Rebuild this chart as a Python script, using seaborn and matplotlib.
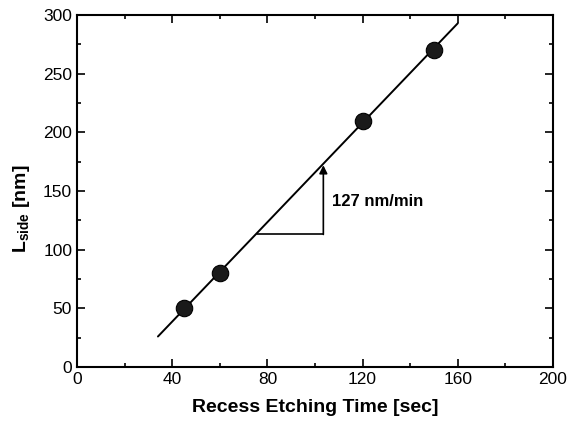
import matplotlib
matplotlib.use("Agg")
import matplotlib.pyplot as plt
import seaborn as sns
import pandas as pd
from matplotlib.ticker import MultipleLocator

# Data
time_sec = [45, 60, 120, 150]
l_side_nm = [50, 80, 210, 270]
fit_x = [34, 160]
fit_y = [26, 293]
tri_x = [75.5, 103.5, 103.5]
tri_y = [113, 113, 172]
rate_label = "127 nm/min"

sns.set_theme(style="ticks")
plt.rcParams['font.family'] = ['Liberation Sans', 'DejaVu Sans']
plt.rcParams['mathtext.fontset'] = 'custom'
plt.rcParams['mathtext.rm'] = 'Liberation Sans'
plt.rcParams['mathtext.bf'] = 'Liberation Sans:bold'
plt.rcParams['mathtext.it'] = 'Liberation Sans:italic'
plt.rcParams['text.color'] = 'black'
plt.rcParams['axes.labelcolor'] = 'black'
plt.rcParams['xtick.color'] = 'black'
plt.rcParams['ytick.color'] = 'black'

fig = plt.figure(figsize=(5.68, 4.30), dpi=100)
ax = fig.add_axes([0.1356, 0.1465, 0.838, 0.8185])

df_pts = pd.DataFrame({"t": time_sec, "l": l_side_nm})
df_fit = pd.DataFrame({"t": fit_x, "l": fit_y})

sns.lineplot(data=df_fit, x="t", y="l", ax=ax, color="black", linewidth=1.4)
sns.scatterplot(data=df_pts, x="t", y="l", ax=ax, s=140, color="#1a1a1a",
                edgecolor="#000000", linewidth=0.8, zorder=3)

# slope triangle
ax.plot(tri_x[:2], tri_y[:2], color="black", linewidth=1.2)
ax.annotate("", xy=(tri_x[2], tri_y[2]), xytext=(tri_x[1], tri_y[1]),
            arrowprops=dict(arrowstyle="-|>", color="black", lw=1.2,
                            mutation_scale=12, shrinkA=0, shrinkB=0))
ax.text(107, 141, rate_label, fontsize=12, fontweight="bold", va="center",
        ha="left", color="black")

ax.set_xlim(0, 200)
ax.set_ylim(0, 300)
ax.xaxis.set_major_locator(MultipleLocator(40))
ax.xaxis.set_minor_locator(MultipleLocator(20))
ax.yaxis.set_major_locator(MultipleLocator(50))
ax.yaxis.set_minor_locator(MultipleLocator(25))
ax.tick_params(which="both", direction="in", top=True, right=True, width=1.2,
               labelsize=12.5, colors="black")
ax.tick_params(which="major", length=6)
ax.tick_params(which="minor", length=3)
for sp in ax.spines.values():
    sp.set_linewidth(1.5)
    sp.set_color("black")

ax.set_xlabel("Recess Etching Time [sec]", fontsize=14, fontweight="bold",
              labelpad=9, color="black")
ax.set_ylabel(r"$\mathbf{L_{side}}$ [nm]", fontsize=14, fontweight="bold",
              color="black")
ax.yaxis.set_label_coords(-0.095, 0.45)

fig.savefig("out.png", dpi=100)
